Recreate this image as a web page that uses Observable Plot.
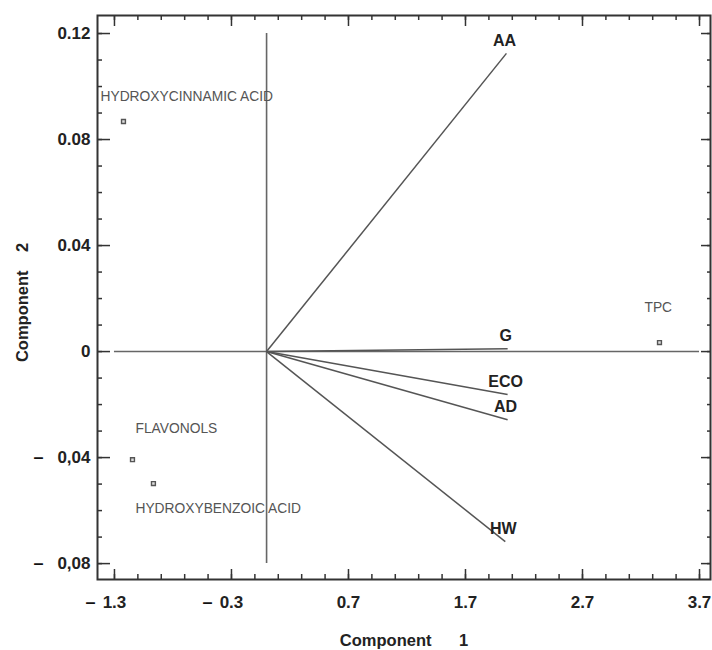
<!DOCTYPE html>
<html><head><meta charset="utf-8">
<script src="https://cdn.jsdelivr.net/npm/d3@7"></script>
<script src="https://cdn.jsdelivr.net/npm/@observablehq/plot@0.6"></script>
<style>body{margin:0;background:#fff;}</style>
</head><body><div id="chart"></div>
<script>
// ---- data ----
const vectorNames = ["AA", "G", "ECO", "AD", "HW"];
const vectorX = [2.05, 2.06, 2.06, 2.06, 2.04];
const vectorY = [0.1125, 0.0011, -0.0162, -0.0257, -0.0717];

const pointNames = ["HYDROXYCINNAMIC ACID", "FLAVONOLS", "HYDROXYBENZOIC ACID", "TPC"];
const pointX = [-1.223, -1.146, -0.967, 3.358];
const pointY = [0.0868, -0.0408, -0.0498, 0.0034];

const xTicks = [-1.3, -0.3, 0.7, 1.7, 2.7, 3.7];
const xTickLabels = ["1.3", "0.3", "0.7", "1.7", "2.7", "3.7"];
const yTicks = [-0.08, -0.04, 0, 0.04, 0.08, 0.12];
const yTickLabels = ["0,08", "0,04", "0", "0.04", "0.08", "0.12"];
const xTitle = "Component\u00a0\u00a0\u00a0\u00a0\u00a0\u00a01";
const yTitle = "Component\u00a0\u00a0\u00a0\u00a02";

// ---- derived tables ----
const vectors = vectorNames.map((name, i) => ({name, x: vectorX[i], y: vectorY[i]}));
const points = pointNames.map((name, i) => ({name, x: pointX[i], y: pointY[i]}));
const xMinor = d3.range(0, 26).map(i => +(xTicks[0] + i * 0.2).toFixed(2));
const yMinor = d3.range(0, 21).map(i => +(yTicks[0] + i * 0.01).toFixed(3));
const xLabelMap = new Map(xTicks.map((t, i) => [t, xTickLabels[i]]));
const yLabelMap = new Map(yTicks.map((t, i) => [t, yTickLabels[i]]));

// ---- layout / style ----
const W = 712, H = 650;
const mL = 97, mR = 2, mT = 15, mB = 71;
const innerW = W - mL - mR, innerH = H - mT - mB;
const axisFont = "Liberation Sans, Arial, sans-serif";
const labelOffsets = {
  "HYDROXYCINNAMIC ACID": [-23, -25],
  "FLAVONOLS": [3, -31],
  "HYDROXYBENZOIC ACID": [-18, 25],
  "TPC": [-15, -35]
};
const tickStroke = "#333";

const marks = [
  // cross axes through origin
  Plot.ruleY([0], {x1: xTicks[0], x2: xTicks[xTicks.length - 1], stroke: "#666", strokeWidth: 1.6}),
  Plot.ruleX([0], {y1: yTicks[0], y2: yTicks[yTicks.length - 1], stroke: "#666", strokeWidth: 1.6}),
  // vectors
  Plot.link(vectors, {x1: () => 0, y1: () => 0, x2: "x", y2: "y", stroke: "#555", strokeWidth: 1.5}),
  Plot.text(vectors, {x: "x", y: "y", text: "name", dy: -13, dx: -2, fontSize: 16, fontWeight: "bold", fill: "#222", fontFamily: axisFont}),
  // points
  Plot.dot(points, {x: "x", y: "y", symbol: "square", r: 2.2, stroke: "#555", fill: "#ddd", strokeWidth: 1.4}),
  ...points.map(p => Plot.text([p], {x: "x", y: "y", text: "name", textAnchor: "start",
      dx: labelOffsets[p.name][0], dy: labelOffsets[p.name][1],
      fontSize: 13.8, fill: "#555", fontFamily: axisFont})),
  // inward ticks: bottom, top
  Plot.ruleX(xMinor, {insetTop: innerH - 5, stroke: tickStroke, strokeWidth: 1.5}),
  Plot.ruleX(xTicks, {insetTop: innerH - 10, stroke: tickStroke, strokeWidth: 1.5}),
  Plot.ruleX(xMinor, {insetBottom: innerH - 5, stroke: tickStroke, strokeWidth: 1.5}),
  Plot.ruleX(xTicks, {insetBottom: innerH - 11, stroke: tickStroke, strokeWidth: 1.5}),
  // inward ticks: left, right
  Plot.ruleY(yMinor, {insetRight: innerW - 5, stroke: tickStroke, strokeWidth: 1.5}),
  Plot.ruleY(yTicks, {insetRight: innerW - 13, stroke: tickStroke, strokeWidth: 1.5}),
  Plot.ruleY(yMinor, {insetLeft: innerW - 3, stroke: tickStroke, strokeWidth: 1.5}),
  Plot.ruleY(yTicks, {insetLeft: innerW - 9, stroke: tickStroke, strokeWidth: 1.5}),
  // tick labels
  Plot.axisX(xTicks, {tickSize: 0, tickPadding: 16, tickFormat: d => xLabelMap.get(d), label: null,
      fontSize: 17, fontWeight: "bold", fill: "#222", fontFamily: axisFont}),
  Plot.axisX(xTicks.filter(d => d < 0), {tickSize: 0, tickPadding: 16, tickFormat: () => "\u2013", label: null, dx: -24,
      fontSize: 18, fontWeight: "bold", fill: "#111", fontFamily: axisFont}),
  Plot.axisY(yTicks, {tickSize: 0, tickPadding: 7, tickFormat: d => yLabelMap.get(d), label: null,
      fontSize: 17, fontWeight: "bold", fill: "#222", fontFamily: axisFont}),
  Plot.axisY(yTicks.filter(d => d < 0), {tickSize: 0, tickPadding: 7, tickFormat: () => "\u2013", label: null, dx: -47,
      fontSize: 18, fontWeight: "bold", fill: "#111", fontFamily: axisFont}),
  // axis titles
  Plot.text([xTitle], {frameAnchor: "bottom", textAnchor: "middle", dy: 66, text: d => d, fontSize: 16.5, fontWeight: "bold", fill: "#222", fontFamily: axisFont}),
  Plot.text([yTitle], {frameAnchor: "left", textAnchor: "middle", dx: -75, dy: 5, rotate: -90, text: d => d, fontSize: 16.5, fontWeight: "bold", fill: "#222", fontFamily: axisFont}),
  Plot.frame({stroke: "#333", strokeWidth: 2})
];

const chart = Plot.plot({
  width: W, height: H,
  marginLeft: mL, marginRight: mR, marginTop: mT, marginBottom: mB,
  x: {domain: [-1.445, 3.794]},
  y: {domain: [-0.086, 0.1268]},
  style: {background: "#fff", fontFamily: axisFont},
  marks
});
document.getElementById("chart").appendChild(chart);
</script>
</body></html>
